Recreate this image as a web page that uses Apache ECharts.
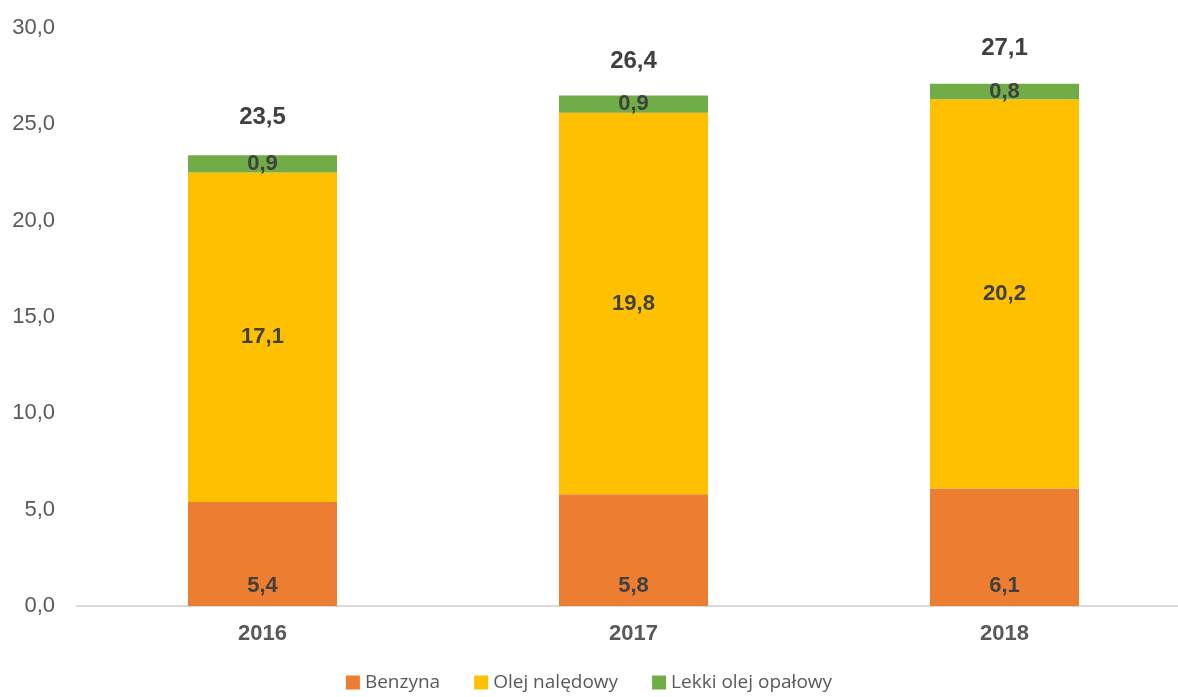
<!DOCTYPE html>
<html>
<head>
<meta charset="utf-8">
<script src="https://cdn.jsdelivr.net/npm/echarts@6/dist/echarts.min.js"></script>
<style>
  html, body { margin: 0; padding: 0; background: #fff; }
  #chart { width: 1178px; height: 697px; }
</style>
</head>
<body>
<div id="chart"></div>
<script>
  const years = ['2016', '2017', '2018']
  const benzyna = [5.4, 5.8, 6.1]
  const olejNapedowy = [17.1, 19.8, 20.2]
  const lekkiOlej = [0.9, 0.9, 0.8]
  const totals = [23.5, 26.4, 27.1]
  const yTicks = [0, 5, 10, 15, 20, 25, 30]

  const fmt = v => Number(v).toFixed(1).replace('.', ',')
  const sans = "'Liberation Sans', Arial, sans-serif"

  const myChart = echarts.init(document.getElementById('chart'))
  const barLabel = {
    show: true,
    position: 'inside',
    fontFamily: sans,
    fontWeight: 'bold',
    fontSize: 22,
    color: '#404040',
    formatter: p => fmt(p.value)
  }

  const option = {
    animation: false,
    grid: { left: 77, width: 1113, top: 28, bottom: 91, outerBoundsMode: 'none' },
    legend: {
      bottom: 0,
      left: 'center',
      itemWidth: 14,
      itemHeight: 14,
      itemGap: 34,
      icon: 'rect',
      textStyle: { fontFamily: "'Open Sans', sans-serif", fontSize: 19, color: '#595959' },
      data: ['Benzyna', 'Olej nalędowy', 'Lekki olej opałowy']
    },
    xAxis: {
      type: 'category',
      data: years,
      axisLine: { lineStyle: { color: '#d9d9d9', width: 2 } },
      axisTick: { show: false },
      axisLabel: {
        margin: 17,
        fontFamily: sans,
        fontWeight: 'bold',
        fontSize: 22,
        color: '#595959'
      }
    },
    yAxis: {
      type: 'value',
      min: yTicks[0],
      max: yTicks[yTicks.length - 1],
      interval: 5,
      splitLine: { show: false },
      axisLine: { show: false },
      axisLabel: {
        margin: 22,
        fontFamily: sans,
        fontSize: 22,
        color: '#595959',
        formatter: v => fmt(v)
      }
    },
    series: [
      {
        name: 'Benzyna', type: 'bar', stack: 'a', barWidth: 149,
        itemStyle: { color: '#ED7D31' },
        label: { ...barLabel, position: 'insideBottom', distance: 9 },
        data: benzyna
      },
      {
        name: 'Olej nalędowy', type: 'bar', stack: 'a', barWidth: 149,
        itemStyle: { color: '#FFC000' },
        label: barLabel,
        data: olejNapedowy
      },
      {
        name: 'Lekki olej opałowy', type: 'bar', stack: 'a', barWidth: 149,
        itemStyle: { color: '#70AD47' },
        label: barLabel,
        data: lekkiOlej
      },
      {
        // sumy nad słupkami
        name: 'Suma', type: 'line', symbol: 'circle', symbolSize: 1, silent: true,
        lineStyle: { width: 0, color: 'rgba(0,0,0,0)' },
        itemStyle: { color: 'rgba(0,0,0,0)' },
        label: {
          show: true,
          position: 'top',
          distance: 23,
          fontFamily: sans,
          fontWeight: 'bold',
          fontSize: 24,
          color: '#404040',
          formatter: p => fmt(p.value)
        },
        data: totals
      }
    ]
  }
  myChart.setOption(option)
</script>
</body>
</html>
